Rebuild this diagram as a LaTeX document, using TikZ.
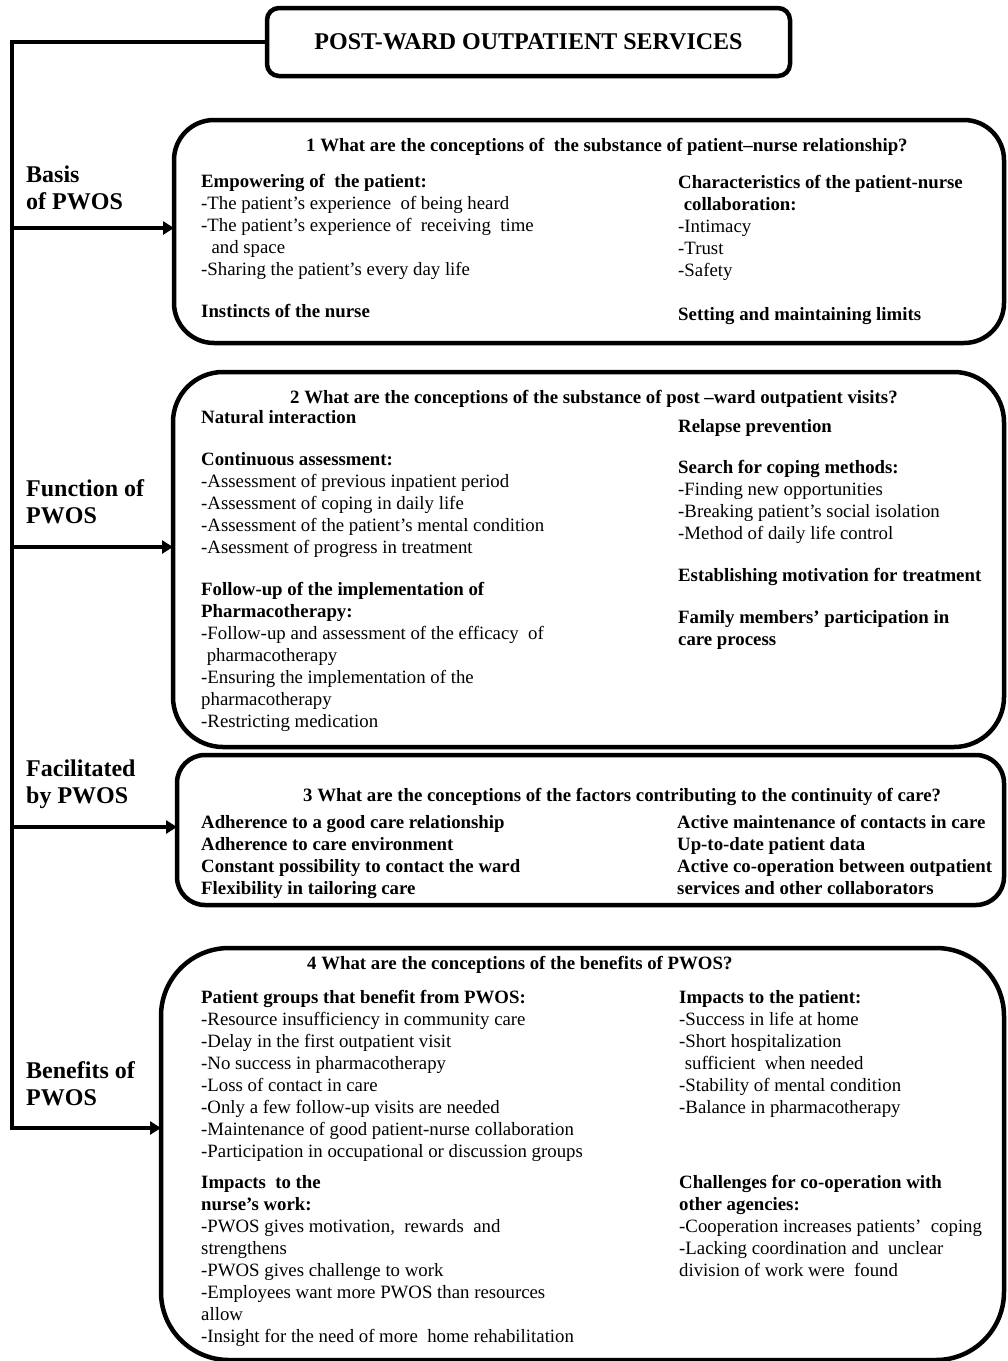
\documentclass[tikz,border=0pt]{standalone}
\usepackage{fontspec}
\setmainfont{Liberation Serif}
\usetikzlibrary{arrows.meta}
\newcommand\bodyfnt{\fontsize{18.8}{22}\selectfont}
\newcommand\labfnt{\fontsize{24}{27}\selectfont\bfseries}
\newcommand\ind{\hspace*{0.3em}}
\begin{document}
\begin{tikzpicture}[x=1pt,y=-1pt,
  bigbox/.style={draw, line width=4.5pt, rectangle, outer sep=0pt, inner sep=0pt},
  txt/.style={anchor=north west, inner sep=0pt, align=left, font=\bodyfnt},
  qtxt/.style={anchor=base west, inner sep=0pt, font=\bodyfnt\bfseries},
  lab/.style={anchor=north west, inner sep=0pt, align=left, font=\labfnt},
  arr/.style={line width=4pt, -{Triangle[length=11pt,width=13pt]}}]
\useasboundingbox (0,0) rectangle (1008,1361);

% title
\node[bigbox, rounded corners=12pt, minimum width=523pt, minimum height=68pt,
      font=\fontsize{24}{27}\selectfont\bfseries] (title) at (528.5,42) {POST-WARD OUTPATIENT SERVICES};

% boxes
\node[bigbox, rounded corners=40pt, minimum width=830pt, minimum height=223pt] (b1) at (589,231.5) {};
\node[bigbox, rounded corners=50pt, minimum width=831pt, minimum height=375pt] (b2) at (588.5,559.5) {};
\node[bigbox, rounded corners=28pt, minimum width=827pt, minimum height=150pt] (b3) at (590.5,830) {};
\node[bigbox, rounded corners=68pt, minimum width=843pt, minimum height=412pt] (b4) at (582.5,1154) {};

% spine and arrows
\coordinate (s0) at (12,42);
\coordinate (s1) at (12,228);
\coordinate (s2) at (12,547);
\coordinate (s3) at (12,827);
\coordinate (s4) at (12,1128);
\draw[arr, line join=miter] (title.west) -- (s0) -- (s4) -- (s4 -| b4.west);
\draw[arr] (s1) -- (s1 -| b1.west);
\draw[arr] (s2) -- (s2 -| b2.west);
\draw[arr] (s3) -- (s3 -| b3.west);

% labels
\node[lab] (lab1) at (26,163) {\strut Basis\\of PWOS};
\node[lab] (lab2) at (26,477) {\strut Function of\\PWOS};
\node[lab] (lab3) at (26,757) {\strut Facilitated\\by PWOS};
\node[lab] (lab4) at (26,1059) {\strut Benefits of\\PWOS};

% box 1
\node[qtxt] (q1) at (306,151) {1 What are the conceptions of\ \ the substance of patient–nurse relationship?};
\node[txt] (l1a) at (201,172) {\strut\textbf{Empowering of\ \ the patient:}\\
-The patient’s experience\ \ of being heard\\
-The patient’s experience of\ \ receiving\ \ time\\
\ind\ and space\\
-Sharing the patient’s every day life};
\node[txt] (l1b) at (201,302) {\strut\textbf{Instincts of the nurse}};
\node[txt] (r1a) at (678,173) {\strut\textbf{Characteristics of the patient-nurse}\\
\ind\textbf{collaboration:}\\
-Intimacy\\
-Trust\\
-Safety};
\node[txt] (r1b) at (678,305) {\strut\textbf{Setting and maintaining limits}};

% box 2
\node[qtxt] (q2) at (290,403) {2 What are the conceptions of the substance of post –ward outpatient visits?};
\node[txt] (l2a) at (201,408) {\strut\textbf{Natural interaction}};
\node[txt] (l2b) at (201,450) {\strut\textbf{Continuous assessment:}\\
-Assessment of previous inpatient period\\
-Assessment of coping in daily life\\
-Assessment of the patient’s mental condition\\
-Asessment of progress in treatment};
\node[txt] (l2c) at (201,580) {\strut\textbf{Follow-up of the implementation of}\\
\textbf{Pharmacotherapy:}\\
-Follow-up and assessment of the efficacy\ \ of\\
\ind pharmacotherapy\\
-Ensuring the implementation of the\\
pharmacotherapy\\
-Restricting medication};
\node[txt] (r2a) at (678,417) {\strut\textbf{Relapse prevention}};
\node[txt] (r2b) at (678,458) {\strut\textbf{Search for coping methods:}\\
-Finding new opportunities\\
-Breaking patient’s social isolation\\
-Method of daily life control};
\node[txt] (r2c) at (678,566) {\strut\textbf{Establishing motivation for treatment}};
\node[txt] (r2d) at (678,608) {\strut\textbf{Family members’ participation in}\\
\textbf{care process}};

% box 3
\node[qtxt] (q3) at (303,801) {3 What are the conceptions of the factors contributing to the continuity of care?};
\node[txt, font=\bodyfnt\bfseries] (l3) at (201,813) {\strut Adherence to a good care relationship\\
Adherence to care environment\\
Constant possibility to contact the ward\\
Flexibility in tailoring care};
\node[txt, font=\bodyfnt\bfseries] (r3) at (677,813) {\strut Active maintenance of contacts in care\\
Up-to-date patient data\\
Active co-operation between outpatient\\
services and other collaborators};

% box 4
\node[qtxt] (q4) at (307,969) {4 What are the conceptions of the benefits of PWOS?};
\node[txt] (l4a) at (201,988) {\strut\textbf{Patient groups that benefit from PWOS:}\\
-Resource insufficiency in community care\\
-Delay in the first outpatient visit\\
-No success in pharmacotherapy\\
-Loss of contact in care\\
-Only a few follow-up visits are needed\\
-Maintenance of good patient-nurse collaboration\\
-Participation in occupational or discussion groups};
\node[txt] (l4b) at (201,1173) {\strut\textbf{Impacts\ \ to the}\\
\textbf{nurse’s work:}\\
-PWOS gives motivation,\ \ rewards\ \ and\\
strengthens\\
-PWOS gives challenge to work\\
-Employees want more PWOS than resources\\
allow\\
-Insight for the need of more\ \ home rehabilitation};
\node[txt] (r4a) at (679,988) {\strut\textbf{Impacts to the patient:}\\
-Success in life at home\\
-Short hospitalization\\
\ind sufficient\ \ when needed\\
-Stability of mental condition\\
-Balance in pharmacotherapy};
\node[txt] (r4b) at (679,1173) {\strut\textbf{Challenges for co-operation with}\\
\textbf{other agencies:}\\
-Cooperation increases patients’\ \ coping\\
-Lacking coordination and\ \ unclear\\
division of work were\ \ found};
\end{tikzpicture}
\end{document}
